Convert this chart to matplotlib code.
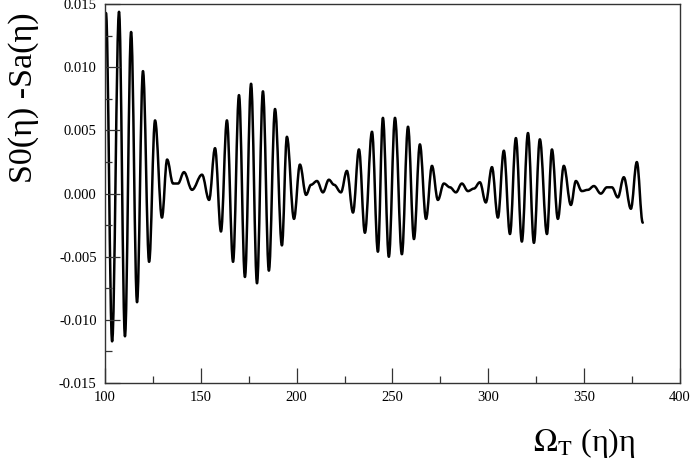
import matplotlib
matplotlib.use("Agg")
import matplotlib.pyplot as plt
from matplotlib.path import Path
from matplotlib.patches import PathPatch
from matplotlib.ticker import MultipleLocator, FormatStrFormatter

# turning points of the curve
eta = [100.5, 103.7, 107.3, 110.4, 113.6, 116.7, 119.8, 123.0, 126.1, 129.7,
       132.4, 135.5, 138.1, 141.2, 145.4, 150.6, 154.3, 157.4, 160.5, 163.6,
       166.8, 169.9, 173.0, 176.2, 179.3, 182.4, 185.5, 188.7, 192.3, 194.9,
       198.6, 201.7, 204.9, 207.5, 210.6, 213.7, 216.8, 219.5, 223.1, 226.2,
       229.4, 232.5, 235.6, 239.3, 242.4, 245.0, 248.1, 251.3, 254.9, 258.1,
       261.2, 264.3, 267.5, 270.6, 273.7, 276.8, 280.0, 283.1, 286.2, 289.4,
       292.5, 295.6, 298.7, 301.9, 305.0, 308.1, 311.3, 314.4, 317.5, 320.7,
       323.8, 326.9, 330.6, 333.2, 336.3, 339.4, 343.1, 345.7, 348.8, 352.0,
       355.1, 358.7, 361.9, 364.5, 367.6, 370.7, 374.4, 377.5, 380.6]
diff = [0.0143, -0.0117, 0.0144, -0.0113, 0.0128, -0.0086, 0.0097, -0.0054, 0.0058, -0.0019,
        0.0027, 0.0008, 0.0008, 0.0017, 0.0003, 0.0015, -0.0005, 0.0036, -0.0030, 0.0058,
        -0.0054, 0.0078, -0.0066, 0.0087, -0.0071, 0.0081, -0.0061, 0.0067, -0.0041, 0.0045,
        -0.0020, 0.0023, -0.0001, 0.0007, 0.0010, 0.0001, 0.0011, 0.0007, 0.0001, 0.0018,
        -0.0015, 0.0035, -0.0031, 0.0049, -0.0046, 0.0060, -0.0050, 0.0060, -0.0048, 0.0053,
        -0.0036, 0.0039, -0.0020, 0.0022, -0.0005, 0.0008, 0.0005, 0.0001, 0.0008, 0.0002,
        0.0004, 0.0009, -0.0007, 0.0021, -0.0019, 0.0034, -0.0032, 0.0044, -0.0038, 0.0048,
        -0.0039, 0.0043, -0.0032, 0.0035, -0.0020, 0.0022, -0.0009, 0.0010, 0.0002, 0.0003,
        0.0006, 0.0000, 0.0005, 0.0005, -0.0003, 0.0013, -0.0012, 0.0025, -0.0023]

plt.rcParams['font.family'] = ['Liberation Serif', 'DejaVu Serif']
plt.rcParams['mathtext.fontset'] = 'stix'

fig = plt.figure(figsize=(6.91, 4.66), dpi=100)
ax = fig.add_axes([0.152, 0.178, 0.832, 0.813])

# smooth curve: cubic pieces with flat tangents at each turning point
verts = [(eta[0], diff[0])]
codes = [Path.MOVETO]
for i in range(1, len(eta)):
    dx = eta[i] - eta[i - 1]
    verts += [(eta[i - 1] + 0.37 * dx, diff[i - 1]),
              (eta[i] - 0.37 * dx, diff[i]),
              (eta[i], diff[i])]
    codes += [Path.CURVE4] * 3
ax.add_patch(PathPatch(Path(verts, codes), fill=False, lw=1.8, color='black',
                       capstyle='round', joinstyle='round'))

ax.set_xlim(100, 400)
ax.set_ylim(-0.015, 0.015)
ax.xaxis.set_major_locator(MultipleLocator(50))
ax.xaxis.set_minor_locator(MultipleLocator(25))
ax.yaxis.set_major_locator(MultipleLocator(0.005))
ax.yaxis.set_minor_locator(MultipleLocator(0.0025))
ax.yaxis.set_major_formatter(FormatStrFormatter('%.3f'))

ax.tick_params(which='both', direction='in', top=False, right=False,
               width=0.9, color='#333333', labelsize=10.5)
ax.tick_params(which='major', length=11, pad=6)
ax.tick_params(which='minor', length=5)
for s in ax.spines.values():
    s.set_linewidth(1.0)
    s.set_color('#333333')

fig.text(0.034, 0.79, 'S0(η) -Sa(η)', rotation=90, fontsize=24.5,
         ha='center', va='center')
fig.text(0.845, 0.05, r'$\Omega_{\mathrm{T}}$ (η)η', fontsize=23,
         ha='center', va='center')

fig.savefig('out.png', dpi=100)
